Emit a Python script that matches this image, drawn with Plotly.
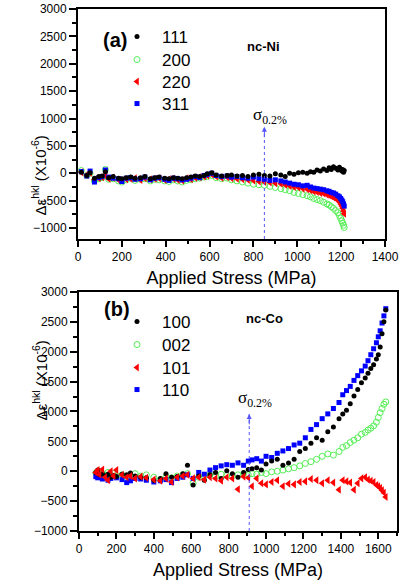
import plotly.graph_objects as go

# ---------------- data: (a) nc-Ni ----------------
stress_ni = [15, 40, 55, 75, 95, 110, 125, 140, 160, 185,
             200, 220, 240, 260, 285, 305, 330, 350, 370, 395,
             415, 435, 455, 475, 495, 515, 535, 555, 575, 590,
             610, 630, 655, 680, 700, 725, 750, 775, 800, 825,
             850, 875, 900, 925, 945, 965, 985, 1005, 1025, 1045,
             1060, 1075, 1090, 1105, 1120, 1135, 1145, 1155, 1165, 1175,
             1185, 1192, 1198, 1203, 1207, 1211, 1214]

ni_111 = [20, -40, 10, -90, -60, -50, 30, -80, -60, -90,
          -100, -80, -70, -90, -80, -60, -100, -80, -70, -90,
          -100, -80, -90, -100, -80, -70, -50, -60, -40, -10,
          10, -30, -50, -40, -30, -50, -40, -60, -30, -20,
          -40, -50, -10, -30, -60, 0, -20, 10, 20, 0,
          30, 20, 60, 40, 80, 50, 100, 70, 120, 90,
          60, 110, 80, 40, 70, 20, 50]

ni_200 = [50, -40, 0, -140, -100, -80, 70, -110, -100, -140,
          -160, -120, -90, -130, -110, -100, -140, -110, -120, -140,
          -150, -120, -140, -160, -130, -120, -100, -90, -70, -60,
          -40, -80, -100, -90, -120, -140, -160, -180, -200, -210,
          -220, -240, -260, -280, -300, -320, -350, -370, -390, -410,
          -430, -460, -480, -500, -530, -560, -580, -610, -640, -680,
          -720, -770, -820, -870, -910, -950, -990]

ni_220 = [20, -30, 10, -120, -90, -70, -40, -100, -80, -120,
          -130, -110, -100, -90, -120, -90, -110, -100, -90, -120,
          -110, -100, -120, -130, -90, -110, -80, -70, -60, -40,
          -20, -60, -80, -70, -90, -100, -110, -120, -130, -150,
          -160, -170, -180, -190, -210, -230, -250, -260, -280, -290,
          -310, -330, -340, -360, -370, -390, -400, -420, -440, -460,
          -490, -520, -560, -600, -640, -690, -740]

ni_311 = [30, -50, 40, -160, -80, -60, 60, -70, -90, -100,
          -150, -90, -80, -110, -100, -70, -120, -90, -80, -110,
          -130, -90, -100, -120, -110, -90, -60, -80, -40, -20,
          0, -40, -60, -50, -70, -60, -80, -90, -70, -100,
          -110, -130, -120, -140, -160, -180, -200, -210, -230, -220,
          -250, -270, -280, -290, -300, -320, -330, -350, -360, -380,
          -410, -430, -460, -490, -520, -560, -600]

# ---------------- data: (b) nc-Co ----------------
stress_co = [90, 100, 110, 125, 140, 155, 170, 185, 200, 230,
             255, 275, 300, 330, 360, 400, 435, 465, 495, 525,
             555, 580, 610, 640, 670, 700, 730, 760, 790, 820,
             850, 880, 905, 925, 950, 975, 1000, 1030, 1060, 1090,
             1120, 1150, 1180, 1210, 1240, 1270, 1300, 1330, 1360, 1390,
             1410, 1430, 1450, 1470, 1490, 1510, 1530, 1545, 1560, 1575,
             1590, 1600, 1610, 1620, 1630, 1640]

co_100 = [-20, 20, -60, -40, -80, -50, -100, -70, -90, -50,
          -60, -30, -80, -100, -110, -150, -120, -40, -100, -90,
          -40, 100, -230, -80, -150, -60, -20, -120, 10, -40,
          -100, -20, 30, 40, 60, 20, 120, 170, 200, 100,
          140, 200, 330, 380, 470, 560, 520, 660, 740, 880,
          960, 1020, 1130, 1260, 1370, 1480, 1560, 1640, 1720, 1780,
          1880, 1950, 2080, 2300, 2500, 2700]

co_002 = [-30, -50, 0, -40, -70, -20, -60, -40, -80, -60,
          -100, -70, -40, -80, -60, -100, -140, -90, -110, -80,
          -60, -40, -200, -100, -80, -60, -90, -50, -70, -80,
          -60, -40, -60, -40, -50, -20, -40, -10, 0, 20,
          40, 60, 90, 130, 160, 200, 250, 290, 270, 330,
          400, 430, 480, 520, 560, 620, 650, 690, 720, 760,
          820, 900, 980, 1050, 1120, 1160]

co_101 = [-20, 20, -60, 30, -100, -150, 0, -80, 20, -60,
          -100, -80, -120, -90, -110, -140, -160, -120, -180, -100,
          -80, -60, -120, -100, -140, -100, -120, -160, -100, -120,
          -300, -90, -110, -250, -120, -200, -220, -180, -150, -250,
          -210, -220, -180, -170, -130, -150, -200, -150, -190, -310,
          -150, -170, -190, -310, -200, -120, -100, -140, -160, -180,
          -230, -250, -280, -320, -360, -430]

co_110 = [-90, -110, -80, -130, -100, -150, -120, -90, -110, -140,
          -190, -160, -120, -130, -150, -180, -160, -140, -190, -120,
          -100, -60, -120, -20, -50, 20, 60, 90, 110, 100,
          140, 100, 170, 190, 210, 170, 250, 230, 300, 340,
          380, 440, 470, 560, 700, 780, 880, 960, 1050, 1150,
          1280, 1350, 1420, 1520, 1600, 1680, 1760, 1850, 1950, 2050,
          2150, 2250, 2350, 2480, 2600, 2720]

yield_ni = 850
yield_co = 910
arrow_top_ni = 850
arrow_top_co = 960

FONT = "Liberation Sans"
BLACK = "#000000"
GREEN = "#55ee55"
RED = "#ff0000"
BLUE = "#0000ff"

fig = go.Figure()

def add_series(x, y, name, sym, color, size, xa, ya, leg, open_=False):
    marker = dict(symbol=sym, size=size, color=color)
    if open_:
        marker["line"] = dict(color=color, width=1)
    else:
        marker["line"] = dict(width=0)
    fig.add_trace(go.Scatter(x=x, y=y, mode="markers", name=name, marker=marker,
                             xaxis=xa, yaxis=ya, legend=leg))

# top panel (draw order: green, red, blue, black)
add_series(stress_ni, ni_200, "200", "circle-open", GREEN, 6, "x", "y", "legend2", True)
add_series(stress_ni, ni_220, "220", "triangle-left", RED, 7, "x", "y", "legend3")
add_series(stress_ni, ni_311, "311", "square", BLUE, 5, "x", "y", "legend4")
add_series(stress_ni, ni_111, "111", "circle", BLACK, 5, "x", "y", "legend")

# bottom panel
add_series(stress_co, co_002, "002", "circle-open", GREEN, 6, "x2", "y2", "legend6", True)
add_series(stress_co, co_110, "110", "square", BLUE, 5, "x2", "y2", "legend8")
add_series(stress_co, co_100, "100", "circle", BLACK, 5, "x2", "y2", "legend5")
add_series(stress_co, co_101, "101", "triangle-left", RED, 7, "x2", "y2", "legend7")

axis_common = dict(showgrid=False, zeroline=False, showline=True, linewidth=2,
                   linecolor="black", mirror=True, ticks="outside", tickwidth=1.5,
                   tickcolor="black", automargin=False,
                   tickfont=dict(family=FONT, size=12, color="black"))

def legend_at(px_y):
    return dict(x=112/400, y=1 - px_y/585, xanchor="left", yanchor="middle",
                bgcolor="rgba(0,0,0,0)", font=dict(family=FONT, size=17),
                itemwidth=40, tracegroupgap=0)

fig.update_layout(
    width=400, height=585,
    margin=dict(l=0, r=0, t=0, b=0, autoexpand=False),
    paper_bgcolor="white", plot_bgcolor="white",
    font=dict(family=FONT, color="black"),
    xaxis=dict(domain=[0.195, 0.9625], anchor="y", range=[0, 1400], dtick=200,
               ticklen=6, minor=dict(ticks="outside", dtick=100, ticklen=3, tickcolor="black"),
               title=dict(text="Applied Stress (MPa)", font=dict(size=18), standoff=8),
               **axis_common),
    yaxis=dict(domain=[0.5915, 0.9846], anchor="x", range=[-1200, 3000], dtick=500,
               ticklen=7, minor=dict(ticks="outside", dtick=250, ticklen=4, tickcolor="black"),
               **axis_common),
    xaxis2=dict(domain=[0.1975, 0.9925], anchor="y2", range=[0, 1700], dtick=200,
                ticklen=6, minor=dict(ticks="outside", dtick=100, ticklen=3, tickcolor="black"),
                title=dict(text="Applied Stress (MPa)", font=dict(size=18), standoff=8),
                **axis_common),
    yaxis2=dict(domain=[0.0923, 0.5009], anchor="x2", range=[-1000, 3000], dtick=500,
                ticklen=7, minor=dict(ticks="outside", dtick=250, ticklen=4, tickcolor="black"),
                **axis_common),
    legend=legend_at(37), legend2=legend_at(60), legend3=legend_at(82), legend4=legend_at(104),
    legend5=legend_at(322), legend6=legend_at(345), legend7=legend_at(368), legend8=legend_at(390),
    showlegend=True,
)

# yield stress markers
for xa, ya, xv, ytop, ybot, ysh in [("x", "y", yield_ni, arrow_top_ni, -1200, 11),
                                    ("x2", "y2", yield_co, arrow_top_co, -1000, 15)]:
    fig.add_shape(type="line", xref=xa, yref=ya, x0=xv, x1=xv, y0=ybot, y1=ytop,
                  line=dict(color="#5555ff", width=1, dash="dot"))
    fig.add_annotation(xref=xa, yref=ya, x=xv, y=ytop, ax=0, ay=12, showarrow=True,
                       arrowhead=2, arrowsize=1, arrowwidth=1, arrowcolor="#5555ff", text="")
    fig.add_annotation(xref=xa, yref=ya, x=xv, y=ytop, yshift=ysh, xshift=6, showarrow=False,
                       text="σ<sub>0.2%</sub>", font=dict(family="Liberation Serif", size=17, color="black"))

# panel labels
fig.add_annotation(xref="paper", yref="paper", x=101/400, y=1-27/585, showarrow=False,
                   text="<b>(a)</b>", font=dict(family=FONT, size=20))
fig.add_annotation(xref="paper", yref="paper", x=282/400, y=1-37/585, showarrow=False,
                   text="<b>nc-Ni</b>", font=dict(family=FONT, size=13))
fig.add_annotation(xref="paper", yref="paper", x=102/400, y=1-309/585, showarrow=False,
                   text="<b>(b)</b>", font=dict(family=FONT, size=20))
fig.add_annotation(xref="paper", yref="paper", x=285/400, y=1-318/585, showarrow=False,
                   text="<b>nc-Co</b>", font=dict(family=FONT, size=13))

# y-axis titles
ytitle = "Δε<sup>hkl</sup> (X10<sup>-6</sup>)"
fig.add_annotation(xref="paper", yref="paper", x=28/400, y=1-134/585, showarrow=False,
                   textangle=-90, text=ytitle, font=dict(family=FONT, size=15))
fig.add_annotation(xref="paper", yref="paper", x=28/400, y=1-423/585, showarrow=False,
                   textangle=-90, text=ytitle, font=dict(family=FONT, size=15))

fig.write_html("out.html", config={"displayModeBar": False},
               post_script="document.body.style.margin='0';")
